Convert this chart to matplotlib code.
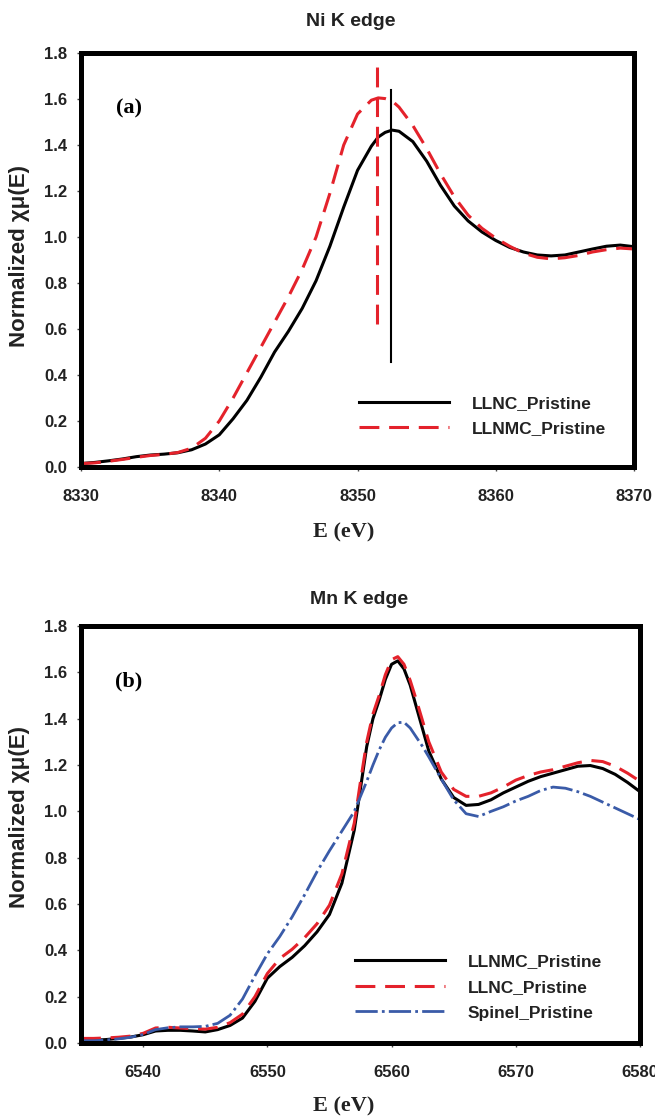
import numpy as np
import matplotlib.pyplot as plt

# --- Ni K edge (panel a) ---
ni_energy = [8330, 8331, 8332, 8333, 8334, 8335, 8336, 8337, 8338, 8339,
             8340, 8341, 8342, 8343, 8344, 8345, 8346, 8347, 8348, 8349,
             8350, 8351, 8351.5, 8352, 8352.5, 8353, 8354, 8355, 8356, 8357,
             8358, 8359, 8360, 8361, 8362, 8363, 8364, 8365, 8366, 8367,
             8368, 8369, 8370]
ni_llnc = [0.015, 0.020, 0.027, 0.035, 0.045, 0.052, 0.056, 0.062, 0.075, 0.100,
           0.140, 0.210, 0.290, 0.390, 0.500, 0.590, 0.690, 0.810, 0.960, 1.130,
           1.290, 1.395, 1.435, 1.455, 1.465, 1.460, 1.415, 1.330, 1.225, 1.135,
           1.070, 1.022, 0.985, 0.955, 0.935, 0.922, 0.918, 0.922, 0.935, 0.948,
           0.960, 0.965, 0.958]
ni_llnmc = [0.015, 0.018, 0.025, 0.033, 0.042, 0.050, 0.055, 0.063, 0.082, 0.125,
            0.200, 0.300, 0.410, 0.520, 0.630, 0.740, 0.860, 1.000, 1.190, 1.400,
            1.535, 1.595, 1.605, 1.602, 1.592, 1.565, 1.485, 1.385, 1.275, 1.175,
            1.095, 1.038, 0.995, 0.960, 0.930, 0.912, 0.905, 0.910, 0.920, 0.935,
            0.945, 0.952, 0.948]
# peak markers: energy, y-start, y-end
ni_peak_llnc = [8352.4, 0.455, 1.64]
ni_peak_llnmc = [8351.4, 0.62, 1.77]

# --- Mn K edge (panel b) ---
mn_energy = [6535, 6536, 6537, 6538, 6539, 6540, 6541, 6542, 6543, 6544,
             6545, 6546, 6547, 6548, 6549, 6550, 6551, 6552, 6553, 6554,
             6555, 6556, 6557, 6557.5, 6558, 6558.5, 6559, 6559.5, 6560, 6560.5,
             6561, 6561.5, 6562, 6562.5, 6563, 6564, 6565, 6566, 6567, 6568,
             6569, 6570, 6571, 6572, 6573, 6574, 6575, 6576, 6577, 6578,
             6579, 6580]
mn_llnmc = [0.010, 0.012, 0.015, 0.020, 0.026, 0.036, 0.052, 0.055, 0.055, 0.052,
            0.048, 0.058, 0.076, 0.108, 0.180, 0.280, 0.330, 0.370, 0.420, 0.480,
            0.555, 0.690, 0.920, 1.100, 1.280, 1.400, 1.480, 1.570, 1.635, 1.650,
            1.615, 1.545, 1.450, 1.355, 1.260, 1.140,
            1.060, 1.026, 1.030, 1.050, 1.080, 1.105, 1.130, 1.150, 1.165, 1.180,
            1.195, 1.198, 1.185, 1.160, 1.125, 1.085]
mn_llnc = [0.020, 0.020, 0.022, 0.025, 0.030, 0.042, 0.065, 0.068, 0.065, 0.062,
           0.060, 0.068, 0.088, 0.125, 0.200, 0.300, 0.365, 0.405, 0.455, 0.515,
           0.595, 0.730, 0.950, 1.130, 1.300, 1.420, 1.500, 1.590, 1.655, 1.668,
           1.635, 1.565, 1.480, 1.390, 1.300, 1.170,
           1.095, 1.065, 1.065, 1.080, 1.105, 1.135, 1.155, 1.170, 1.180, 1.195,
           1.210, 1.220, 1.215, 1.195, 1.165, 1.130]
mn_spinel = [0.010, 0.010, 0.013, 0.018, 0.025, 0.037, 0.058, 0.066, 0.070, 0.070,
             0.072, 0.085, 0.120, 0.190, 0.290, 0.385, 0.460, 0.545, 0.640, 0.740,
             0.830, 0.915, 1.000, 1.065, 1.130, 1.200, 1.265, 1.320, 1.360, 1.383,
             1.385, 1.360, 1.320, 1.280, 1.235, 1.140,
             1.050, 0.990, 0.978, 1.000, 1.020, 1.045, 1.065, 1.090, 1.105, 1.100,
             1.085, 1.065, 1.040, 1.015, 0.990, 0.965]

RED = '#e4222b'
BLUE = '#3a5ba8'
SANS = ['Liberation Sans', 'DejaVu Sans']
SERIF = ['Liberation Serif', 'DejaVu Serif']
yticks = [0.0, 0.2, 0.4, 0.6, 0.8, 1.0, 1.2, 1.4, 1.6, 1.8]

fig = plt.figure(figsize=(6.55, 11.17), dpi=100)
ax1 = fig.add_axes([0.1237, 0.5819, 0.8443, 0.3706])
ax2 = fig.add_axes([0.1237, 0.0662, 0.8534, 0.3733])


def style_axes(ax, xticks, xlim):
    ax.set_xlim(*xlim)
    ax.set_ylim(0, 1.8)
    ax.set_xticks(xticks)
    ax.set_yticks(yticks)
    ax.set_yticklabels([f"{v:.1f}" for v in yticks])
    for s in ax.spines.values():
        s.set_linewidth(3.6)
        s.set_color('black')
    ax.tick_params(axis='both', direction='out', length=3, width=1, color='#444444')
    ax.tick_params(axis='x', pad=13)
    ax.tick_params(axis='y', pad=7)
    for lab in ax.get_xticklabels() + ax.get_yticklabels():
        lab.set_family(SANS)
        lab.set_fontweight('bold')
        lab.set_fontsize(12)
        lab.set_color('#222222')


# panel (a)
l1, = ax1.plot(ni_energy, ni_llnc, color='black', lw=2.2, label='LLNC_Pristine')
l2, = ax1.plot(ni_energy, ni_llnmc, color=RED, lw=2.2, dashes=(6.5, 3.2), label='LLNMC_Pristine')
ax1.plot([ni_peak_llnmc[0]] * 2, ni_peak_llnmc[1:], color=RED, lw=2.2, dashes=(6.5, 3.2))
ax1.plot([ni_peak_llnc[0]] * 2, ni_peak_llnc[1:], color='black', lw=1.5)
style_axes(ax1, [8330, 8340, 8350, 8360, 8370], (8330, 8370))
ax1.text(8332.5, 1.557, '(a)', family=SERIF, fontweight='bold', fontsize=16, va='center')
leg1 = ax1.legend(handles=[l1, l2], loc='upper left', bbox_to_anchor=(0.503, 0.172),
                  frameon=False, borderpad=0, borderaxespad=0, handlelength=5.2,
                  handletextpad=1.3, labelspacing=0.6,
                  prop={'family': SANS, 'weight': 'bold', 'size': 12.5})

# panel (b)
m1, = ax2.plot(mn_energy, mn_llnmc, color='black', lw=2.2, label='LLNMC_Pristine')
m2, = ax2.plot(mn_energy, mn_llnc, color=RED, lw=2.2, dashes=(6.5, 3.2), label='LLNC_Pristine')
m3, = ax2.plot(mn_energy, mn_spinel, color=BLUE, lw=2.0, dashes=(8, 1.5, 1, 1.5),
               label='Spinel_Pristine')
style_axes(ax2, [6540, 6550, 6560, 6570, 6580], (6535, 6580))
ax2.text(6537.7, 1.56, '(b)', family=SERIF, fontweight='bold', fontsize=16, va='center')
leg2 = ax2.legend(handles=[m1, m2, m3], loc='upper left', bbox_to_anchor=(0.49, 0.213),
                  frameon=False, borderpad=0, borderaxespad=0, handlelength=5.2,
                  handletextpad=1.3, labelspacing=0.6,
                  prop={'family': SANS, 'weight': 'bold', 'size': 12.5})
for leg in (leg1, leg2):
    for t in leg.get_texts():
        t.set_color('#222222')

# titles and axis labels
fig.text(0.535, 0.981, 'Ni K edge', family=SANS, fontweight='bold', fontsize=14,
         ha='center', va='center', color='#222222')
fig.text(0.548, 0.463, 'Mn K edge', family=SANS, fontweight='bold', fontsize=14,
         ha='center', va='center', color='#222222')
fig.text(0.525, 0.523, 'E (eV)', family=SERIF, fontweight='bold', fontsize=16,
         ha='center', va='center', color='#222222')
fig.text(0.525, 0.009, 'E (eV)', family=SERIF, fontweight='bold', fontsize=16,
         ha='center', va='center', color='#222222')
fig.text(0.03, 0.771, 'Normalized χμ(E)', family=SANS, fontweight='bold', fontsize=16,
         rotation=90, ha='center', va='center', color='#222222')
fig.text(0.03, 0.269, 'Normalized χμ(E)', family=SANS, fontweight='bold', fontsize=16,
         rotation=90, ha='center', va='center', color='#222222')

fig.savefig('out.png', dpi=100)
